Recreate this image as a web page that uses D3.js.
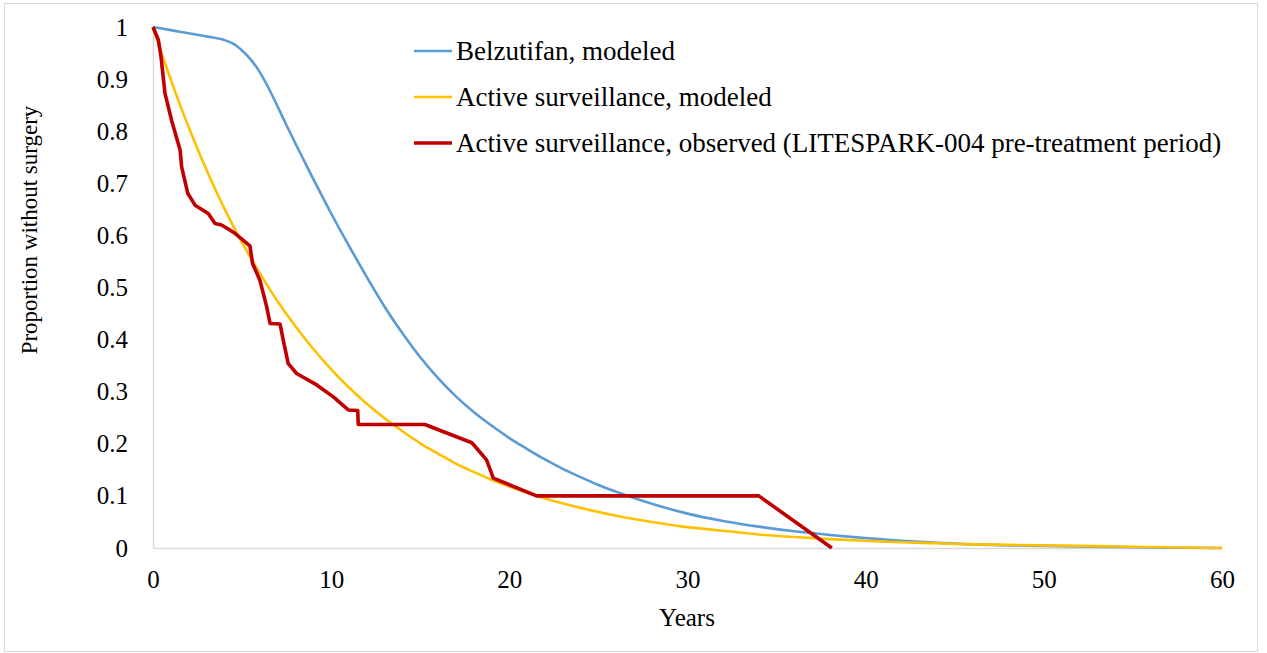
<!DOCTYPE html>
<html>
<head>
<meta charset="utf-8">
<script src="https://cdn.jsdelivr.net/npm/d3@7"></script>
<style>
  html, body { margin: 0; padding: 0; background: #fff; }
  svg { display: block; }
  text { font-family: "Liberation Serif", "Times New Roman", serif; fill: #000; }
</style>
</head>
<body>
<svg id="chart" width="1267" height="653"></svg>
<script>
// Belzutifan, modeled (years, proportion without surgery)
const belzYears = [0, 1, 2, 3, 4, 4.5, 5, 5.5, 6, 6.5, 7, 7.5, 8, 8.5, 9, 9.5, 10, 11, 12, 13, 14, 15, 16, 17, 18, 19, 20, 21, 22, 23, 24, 25, 26, 27, 28, 29, 30, 32, 34, 36, 38, 40, 42, 44, 46, 48, 50, 52, 54, 56, 58, 60];
const belzValues = [1.0, 0.994, 0.988, 0.982, 0.975, 0.968, 0.955, 0.937, 0.913, 0.882, 0.847, 0.811, 0.776, 0.742, 0.708, 0.675, 0.642, 0.58, 0.52, 0.463, 0.412, 0.366, 0.326, 0.291, 0.261, 0.235, 0.211, 0.19, 0.17, 0.152, 0.136, 0.121, 0.108, 0.096, 0.085, 0.075, 0.066, 0.052, 0.041, 0.032, 0.025, 0.019, 0.014, 0.010, 0.007, 0.005, 0.004, 0.003, 0.002, 0.001, 0.0005, 0.0];

// Active surveillance, modeled
const asModYears = [0, 0.5, 1, 1.5, 2, 2.5, 3, 3.5, 4, 5, 6, 7, 8, 9, 10, 11, 12, 13, 14, 15, 16, 17, 18, 19, 20, 22, 24, 26, 28, 30, 32, 34, 36, 38, 40, 42, 44, 46, 48, 50, 52, 54, 56, 58, 60];
const asModValues = [1.0, 0.948, 0.899, 0.852, 0.808, 0.766, 0.726, 0.688, 0.652, 0.586, 0.527, 0.473, 0.425, 0.382, 0.343, 0.308, 0.277, 0.249, 0.224, 0.201, 0.181, 0.162, 0.146, 0.131, 0.118, 0.095, 0.077, 0.062, 0.050, 0.040, 0.033, 0.026, 0.021, 0.017, 0.014, 0.011, 0.009, 0.007, 0.006, 0.005, 0.004, 0.003, 0.002, 0.001, 0.0];

// Active surveillance, observed (LITESPARK-004 pre-treatment period)
const asObsYears = [0, 0.3, 0.45, 0.67, 1.05, 1.52, 1.61, 1.95, 2.36, 3.1, 3.48, 3.85, 4.6, 5.44, 5.59, 6.0, 6.38, 6.57, 7.13, 7.31, 7.59, 8.06, 9.19, 10.12, 10.96, 11.49, 11.52, 15.26, 17.9, 18.72, 19.1, 21.53, 34.0, 38.1];
const asObsValues = [1.0, 0.975, 0.943, 0.873, 0.82, 0.764, 0.731, 0.681, 0.658, 0.642, 0.623, 0.62, 0.604, 0.58, 0.546, 0.514, 0.463, 0.431, 0.43, 0.399, 0.354, 0.335, 0.313, 0.29, 0.265, 0.264, 0.237, 0.237, 0.202, 0.169, 0.134, 0.1, 0.1, 0.0];

const xTicks = [0, 10, 20, 30, 40, 50, 60];
const yTicks = [0, 0.1, 0.2, 0.3, 0.4, 0.5, 0.6, 0.7, 0.8, 0.9, 1];
const yTickLabels = ["0", "0.1", "0.2", "0.3", "0.4", "0.5", "0.6", "0.7", "0.8", "0.9", "1"];

const seriesNames = [
  "Belzutifan, modeled",
  "Active surveillance, modeled",
  "Active surveillance, observed (LITESPARK-004 pre-treatment period)"
];
const seriesColors = ["#5B9BD5", "#FFC000", "#C00000"];
const seriesWidths = [2.6, 2.6, 3.6];

const svg = d3.select("#chart");

// outer frame
svg.append("rect")
  .attr("x", 4.5).attr("y", 3.5)
  .attr("width", 1253).attr("height", 648)
  .attr("fill", "none").attr("stroke", "#d9d9d9").attr("stroke-width", 1);

const x = d3.scaleLinear().domain([0, 60]).range([153, 1222]);
const y = d3.scaleLinear().domain([0, 1]).range([548, 27]);

// axes: plain grey lines, no tick marks
const xAxis = d3.axisBottom(x).tickValues(xTicks).tickSize(0).tickPadding(22).tickFormat(d3.format("d"));
const gx = svg.append("g").attr("transform", `translate(0,${y(0)})`).call(xAxis);
gx.select(".domain").attr("stroke", "#d9d9d9").attr("stroke-width", 1.5);
gx.selectAll("text").attr("font-size", 25).attr("font-family", "Liberation Serif");

const yAxis = d3.axisLeft(y).tickValues(yTicks).tickSize(0).tickPadding(25)
  .tickFormat((d, i) => yTickLabels[i]);
const gy = svg.append("g").attr("transform", `translate(${x(0)},0)`).call(yAxis);
gy.select(".domain").attr("stroke", "#d9d9d9").attr("stroke-width", 1.5);
gy.selectAll("text").attr("font-size", 25).attr("font-family", "Liberation Serif");

// axis titles
svg.append("text")
  .attr("x", 687).attr("y", 626)
  .attr("text-anchor", "middle")
  .attr("font-size", 25)
  .text("Years");

svg.append("text")
  .attr("transform", "translate(37,230) rotate(-90)")
  .attr("text-anchor", "middle")
  .attr("font-size", 23)
  .text("Proportion without surgery");

// series lines
const series = [
  { xs: belzYears, ys: belzValues, curve: d3.curveMonotoneX },
  { xs: asModYears, ys: asModValues, curve: d3.curveMonotoneX },
  { xs: asObsYears, ys: asObsValues, curve: d3.curveLinear }
];

series.forEach((s, i) => {
  const pts = s.xs.map((t, j) => [t, s.ys[j]]);
  const line = d3.line().x(d => x(d[0])).y(d => y(d[1])).curve(s.curve);
  svg.append("path")
    .datum(pts)
    .attr("d", line)
    .attr("fill", "none")
    .attr("stroke", seriesColors[i])
    .attr("stroke-width", seriesWidths[i])
    .attr("stroke-linejoin", "round")
    .attr("stroke-linecap", "butt");
});

// legend
const legendY = [51, 97, 143];
const legend = svg.append("g");
seriesNames.forEach((name, i) => {
  legend.append("line")
    .attr("x1", 414).attr("x2", 452)
    .attr("y1", legendY[i]).attr("y2", legendY[i])
    .attr("stroke", seriesColors[i])
    .attr("stroke-width", seriesWidths[i]);
  legend.append("text")
    .attr("x", 456).attr("y", legendY[i])
    .attr("dy", "0.35em")
    .attr("font-size", 27)
    .text(name);
});
</script>
</body>
</html>
